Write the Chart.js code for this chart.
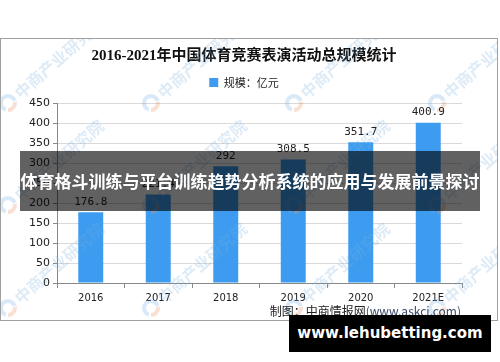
<!DOCTYPE html>
<html>
<head>
<meta charset="utf-8">
<script src="https://cdn.jsdelivr.net/npm/chart.js@4.4.0/dist/chart.umd.min.js"></script>
<style>
  html, body { margin: 0; padding: 0; background: #fff; }
  #wrap { position: relative; width: 500px; height: 362px; overflow: hidden; }
  #band {
    position: absolute; left: 20px; top: 151px; width: 460px; height: 60px;
    background: rgba(0, 0, 0, 0.62); color: #fff;
    font: bold 17px "Noto Sans CJK SC", sans-serif;
    line-height: 60px; text-align: center; white-space: nowrap;
  }
  #site {
    position: absolute; left: 289px; top: 315px; width: 202px; height: 37px;
    background: #000; color: #fff;
    font: bold 15px "DejaVu Sans", sans-serif;
    line-height: 37px; text-align: center; white-space: nowrap;
  }
</style>
</head>
<body>
<div id="wrap">
  <canvas id="barChart" width="500" height="362"></canvas>
  <div id="band">体育格斗训练与平台训练趋势分析系统的应用与发展前景探讨</div>
  <div id="site">www.lehubetting.com</div>
</div>
<script>
// Data kategori dan nilai
const years = ["2016", "2017", "2018", "2019", "2020", "2021E"];
const scale = [176.8, 221.4, 292, 308.5, 351.7, 400.9];
const scaleLabels = ["176.8", "221.4", "292", "308.5", "351.7", "400.9"];

// Posisi tanda air (watermark)
const markCols = [8, 151, 294, 437];
const markRows = [103, 205, 308];

// Bingkai luar, tanda air, label nilai dan sumber
const framePlugin = {
    id: "frame",
    beforeDraw(chart) {
        const c = chart.ctx;
        c.save();
        c.fillStyle = "#fff";
        c.fillRect(0, 0, chart.width, chart.height);
        c.strokeStyle = "#a0a0a0";
        c.lineWidth = 1;
        c.strokeRect(0.5, 38.5, 497, 282);
        c.restore();
    },
    afterDatasetsDraw(chart) {
        const c = chart.ctx;
        c.save();
        c.beginPath();
        c.rect(1, 39, 496, 281);
        c.clip();
        markRows.forEach(y => {
            markCols.forEach(x => {
                c.save();
                c.translate(x, y);
                // logo kecil
                c.lineWidth = 4;
                c.strokeStyle = "rgba(120,175,225,0.28)";
                c.beginPath();
                c.arc(0, 0, 7, 0.6 * Math.PI, 1.9 * Math.PI);
                c.stroke();
                c.strokeStyle = "rgba(240,150,110,0.3)";
                c.beginPath();
                c.arc(0, 0, 7, 1.95 * Math.PI, 2.5 * Math.PI);
                c.stroke();
                c.rotate(-0.72);
                c.fillStyle = "rgba(120,175,225,0.25)";
                c.font = "bold 16px 'Noto Sans CJK SC', sans-serif";
                c.textBaseline = "middle";
                c.fillText("中商产业研究院", 12, 0);
                c.restore();
            });
        });
        c.restore();
    },
    afterDraw(chart) {
        const c = chart.ctx;
        c.save();
        // Label nilai di atas batang
        c.font = "11px 'DejaVu Sans Mono', monospace";
        c.fillStyle = "#222";
        c.textAlign = "center";
        c.textBaseline = "bottom";
        chart.getDatasetMeta(0).data.forEach((bar, i) => {
            c.fillText(scaleLabels[i], bar.x, bar.y - 5);
        });
        // Sumber data
        c.font = "12px 'Noto Sans CJK SC', sans-serif";
        c.textBaseline = "middle";
        c.textAlign = "right";
        const src2 = "(www.askci.com)";
        c.fillStyle = "#3a4a6a";
        c.fillText(src2, 461, 311);
        const w = c.measureText(src2).width;
        c.fillStyle = "#222";
        c.fillText("制图：中商情报网", 461 - w, 311);
        c.restore();
    }
};

let ctx = document.getElementById("barChart").getContext("2d");
let barChart = new Chart(ctx, {
    type: "bar",
    data: {
        labels: years,
        datasets: [{
            label: "规模：亿元",
            data: scale,
            backgroundColor: "#3d9cf0",
            barPercentage: 0.37,
            categoryPercentage: 1
        }]
    },
    options: {
        responsive: false,
        animation: false,
        layout: {
            padding: { top: 38, left: 26, right: 38, bottom: 42 }
        },
        plugins: {
            title: {
                display: true,
                text: "2016-2021年中国体育竞赛表演活动总规模统计",
                color: "#111",
                font: { family: "'Liberation Serif', 'Noto Sans CJK SC', serif", size: 15, weight: "bold" },
                padding: { top: 9, bottom: 2 }
            },
            legend: {
                position: "top",
                labels: {
                    boxWidth: 9,
                    boxHeight: 9,
                    color: "#222",
                    font: { family: "'Noto Sans CJK SC', sans-serif", size: 11 },
                    padding: 10
                }
            },
            tooltip: { enabled: false }
        },
        scales: {
            x: {
                grid: { drawOnChartArea: false, drawTicks: true, tickLength: 5, color: "#888" },
                border: { color: "#888" },
                ticks: { color: "#222", font: { family: "'DejaVu Sans', sans-serif", size: 10 }, padding: 4 },
                afterFit(s) { s.height = 37; }
            },
            // sumbu tersembunyi hanya untuk memberi jarak di atas area plot
            xTop: {
                type: "category",
                position: "top",
                display: true,
                grid: { display: false, drawTicks: false },
                ticks: { display: false },
                border: { display: false },
                afterFit(s) { s.height = 5; }
            },
            y: {
                min: 0,
                max: 450,
                ticks: { stepSize: 50, color: "#222", font: { family: "'DejaVu Sans', sans-serif", size: 11 }, padding: 3 },
                grid: { color: "#d9d9d9", tickLength: 4, tickColor: "#888" },
                border: { color: "#888" },
                afterFit(s) { s.width = 31; }
            }
        }
    },
    plugins: [framePlugin]
});
</script>
</body>
</html>
